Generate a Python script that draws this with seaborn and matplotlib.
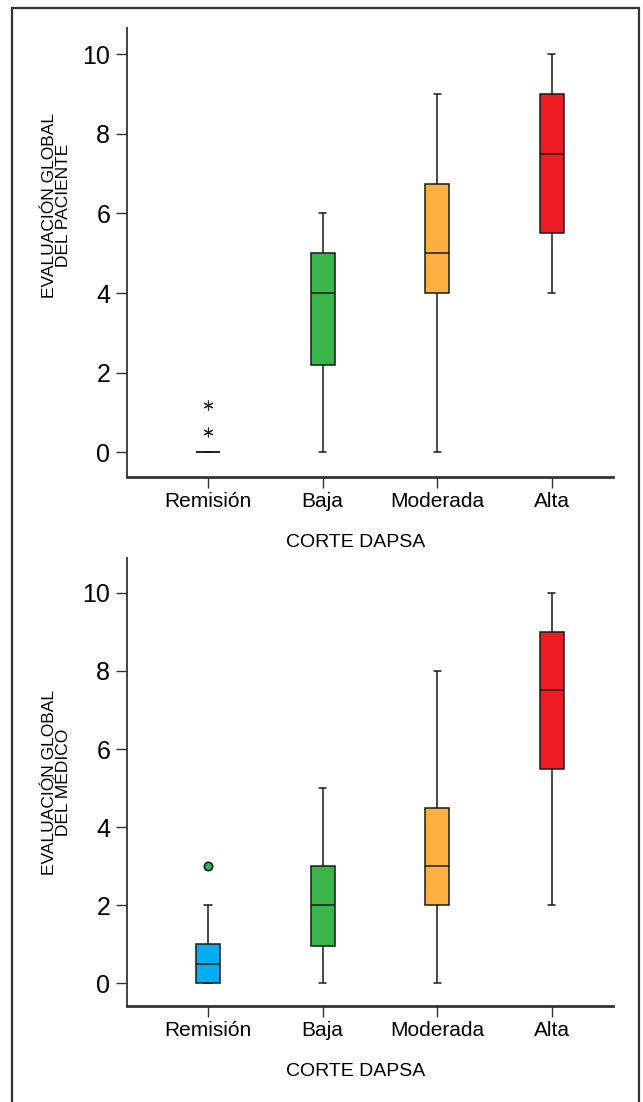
import matplotlib
matplotlib.use("Agg")
import matplotlib.pyplot as plt
from matplotlib.patches import Rectangle
import seaborn as sns
import pandas as pd

# categories of the DAPSA cut and their colours
categories = ["Remisión", "Baja", "Moderada", "Alta"]
colors = ["#00AEEF", "#39B54A", "#FBB040", "#ED1C24"]

# patient global assessment, scores
patient_remision = [0, 0, 0, 0, 0, 0, 0, 0.5, 1.2]
patient_baja = [0, 2.2, 4, 5, 6]
patient_moderada = [0, 4, 5, 6.75, 9]
patient_alta = [4, 5.5, 7.5, 9, 10]

# physician global assessment
medico_remision = [0, 0, 0, 0, 0.5, 1, 1, 2, 3]
medico_baja = [0, 0.95, 2, 3, 5]
medico_moderada = [0, 2, 3, 4.5, 8]
medico_alta = [2, 5.5, 7.5, 9, 10]

y_ticks = [0, 2, 4, 6, 8, 10]


def long_frame(groups):
    rows = []
    for cat, vals in zip(categories, groups):
        for v in vals:
            rows.append({"corte": cat, "valor": v})
    return pd.DataFrame(rows)


def draw_panel(ax, df, ylabel, ylim, flierprops, label_y):
    sns.boxplot(
        data=df, x="corte", y="valor", hue="corte", order=categories,
        hue_order=categories, palette=colors, saturation=1, width=0.21,
        whis=1.5, linecolor="#1a1a1a", linewidth=1.1, legend=False,
        flierprops=flierprops, ax=ax,
    )
    # short whisker caps like the original
    for cont in ax.containers:
        for cap in getattr(cont, "caps", []):
            xs = cap.get_xdata()
            c = (xs[0] + xs[1]) / 2
            cap.set_xdata([c - 0.032, c + 0.032])

    ax.set_xlim(-0.707, 3.532)
    ax.set_ylim(*ylim)
    ax.set_yticks(y_ticks)
    ax.set_xlabel("CORTE DAPSA", fontsize=14)
    ax.xaxis.set_label_coords(0.47, -0.128)
    ax.set_ylabel(ylabel, fontsize=12.5, linespacing=0.9)
    ax.yaxis.set_label_coords(-0.115, label_y)
    sns.despine(ax=ax)
    ax.spines["left"].set_linewidth(1.3)
    ax.spines["bottom"].set_linewidth(2.0)
    for s in ("left", "bottom"):
        ax.spines[s].set_color("#333333")
    ax.tick_params(axis="y", labelsize=18, length=8, width=1, pad=4, colors="#333333", labelcolor="black")
    ax.tick_params(axis="x", labelsize=15, length=8, width=1, pad=3, colors="#333333", labelcolor="black")


sns.set_style("ticks")
plt.rcParams["font.family"] = ["Liberation Sans", "DejaVu Sans"]
plt.rcParams["text.color"] = "black"
plt.rcParams["axes.labelcolor"] = "black"

fig = plt.figure(figsize=(6.43, 11.02), dpi=100)
ax1 = fig.add_axes([0.1975, 0.5674, 0.7555, 0.4072])
ax2 = fig.add_axes([0.1975, 0.0871, 0.7555, 0.4065])

star = dict(marker=(6, 2, 0), markersize=7, markerfacecolor="#222222",
            markeredgecolor="#222222", markeredgewidth=0.8)
dot = dict(marker="o", markersize=6, markerfacecolor="#2DB55D",
           markeredgecolor="#1a1a1a", markeredgewidth=1.2)

draw_panel(ax1, long_frame([patient_remision, patient_baja, patient_moderada, patient_alta]),
           "EVALUACIÓN GLOBAL\nDEL PACIENTE", (-0.613, 10.66), star, 0.605)
draw_panel(ax2, long_frame([medico_remision, medico_baja, medico_moderada, medico_alta]),
           "EVALUACIÓN GLOBAL\nDEL MÉDICO", (-0.58, 10.89), dot, 0.5)

# outer frame, open at the bottom edge of the image
fig.patches.append(Rectangle((11.7 / 643, -0.01), (639 - 11.7) / 643, 1 - 8.3 / 1102 + 0.01,
                             transform=fig.transFigure, fill=False,
                             edgecolor="#333333", linewidth=1.6))

fig.savefig("out.png", dpi=100)
